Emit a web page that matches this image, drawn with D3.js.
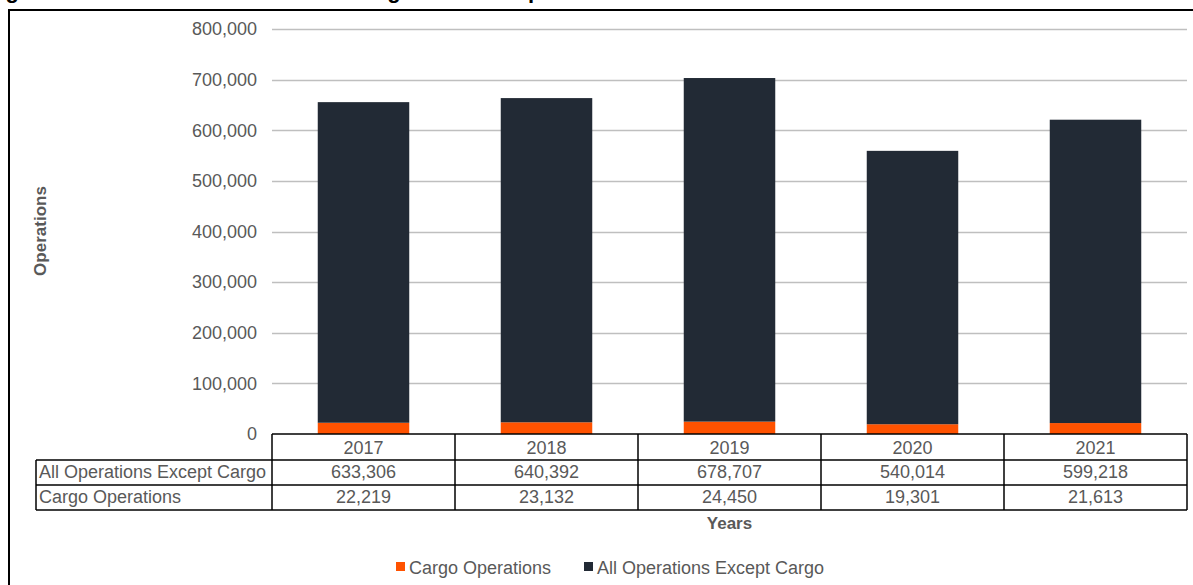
<!DOCTYPE html>
<html>
<head>
<meta charset="utf-8">
<script src="https://cdn.jsdelivr.net/npm/d3@7"></script>
<style>
  html, body { margin: 0; padding: 0; background: #fff; }
  svg { display: block; font-family: "Liberation Sans", Arial, sans-serif; }
</style>
</head>
<body>
<svg id="chart" width="1193" height="585"></svg>
<script>
const years = ["2017", "2018", "2019", "2020", "2021"];
const allExceptCargo = [633306, 640392, 678707, 540014, 599218];
const cargoOps = [22219, 23132, 24450, 19301, 21613];
const yTicks = [0, 100000, 200000, 300000, 400000, 500000, 600000, 700000, 800000];
const seriesNames = ["Cargo Operations", "All Operations Except Cargo"];
const titleParts = ["Figure 4: Total Annual Aircraft and Cargo", "Operations"];

const colors = { cargo: "#ff5200", other: "#222a35" };
const textColor = "#595959";
const fmt = d3.format(",");
const FS = 18;

const svg = d3.select("#chart");
const W = 1193, H = 585;

const plot = { left: 272, right: 1187, top: 29, bottom: 434 };

const x = d3.scaleBand().domain(years).range([plot.left, plot.right]).paddingInner(0.5).paddingOuter(0.25);
const xCell = d3.scaleBand().domain(years).range([plot.left, plot.right]).padding(0);
const y = d3.scaleLinear().domain([0, 800000]).range([plot.bottom, plot.top]);

// Title (cut off at top, as in the reference)
const title = svg.append("text")
  .attr("y", -2)
  .attr("font-size", 22).attr("font-weight", "bold").attr("fill", "#000");
title.append("tspan").attr("x", -14).text(titleParts[0]);
title.append("tspan").attr("x", 511).text(titleParts[1]);

// Outer border
svg.append("rect")
  .attr("x", 9).attr("y", 10).attr("width", W + 20).attr("height", H + 20)
  .attr("fill", "none").attr("stroke", "#000").attr("stroke-width", 2);

// Gridlines
svg.append("g").selectAll("line").data(yTicks.filter(d => d > 0)).join("line")
  .attr("x1", plot.left).attr("x2", plot.right)
  .attr("y1", d => Math.round(y(d)) + 0.5).attr("y2", d => Math.round(y(d)) + 0.5)
  .attr("stroke", "#bfbfbf").attr("stroke-width", 1.3);

// Y axis labels
const yAxis = d3.axisLeft(y).tickValues(yTicks).tickFormat(fmt).tickSize(0).tickPadding(0);
const gy = svg.append("g").attr("transform", `translate(257,0)`).call(yAxis);
gy.select(".domain").remove();
gy.selectAll("text").attr("font-size", FS).attr("fill", textColor)
  .attr("font-family", "'Liberation Sans', Arial, sans-serif");

// Stacked bars
const data = years.map((yr, i) => ({ year: yr, cargo: cargoOps[i], other: allExceptCargo[i] }));
const layers = d3.stack().keys(["cargo", "other"])(data);

svg.append("g").selectAll("g").data(layers).join("g")
  .attr("fill", d => colors[d.key])
  .selectAll("rect").data(d => d).join("rect")
  .attr("x", d => x(d.data.year))
  .attr("width", x.bandwidth())
  .attr("y", d => y(d[1]))
  .attr("height", d => y(d[0]) - y(d[1]));

// Data table
const rowTop = [434, 460, 485];
const rowBot = 510;
const tableLeft = 36;
const tbl = svg.append("g").attr("stroke", "#000").attr("stroke-width", 1.5).attr("fill", "none");
tbl.append("line").attr("x1", plot.left).attr("x2", plot.right).attr("y1", rowTop[0]).attr("y2", rowTop[0]);
[rowTop[1], rowTop[2], rowBot].forEach(yy => {
  tbl.append("line").attr("x1", tableLeft).attr("x2", plot.right).attr("y1", yy).attr("y2", yy);
});
tbl.append("line").attr("x1", tableLeft).attr("x2", tableLeft).attr("y1", rowTop[1]).attr("y2", rowBot);
const vx = years.map(yr => xCell(yr)).concat([plot.right]);
vx.forEach(xx => {
  tbl.append("line").attr("x1", xx).attr("x2", xx).attr("y1", rowTop[0]).attr("y2", rowBot);
});

const tText = svg.append("g").attr("font-size", FS).attr("fill", textColor);
tText.selectAll("text.yr").data(years).join("text").attr("class", "yr")
  .attr("x", d => xCell(d) + xCell.bandwidth() / 2).attr("y", (rowTop[0] + rowTop[1]) / 2 + 6.5)
  .attr("text-anchor", "middle").text(d => d);
const rows = [
  { name: seriesNames[1], vals: allExceptCargo, top: rowTop[1], bot: rowTop[2] },
  { name: seriesNames[0], vals: cargoOps, top: rowTop[2], bot: rowBot }
];
rows.forEach(r => {
  const cy = (r.top + r.bot) / 2 + 5.5;
  tText.append("text").attr("x", tableLeft + 3).attr("y", cy).text(r.name);
  years.forEach((yr, i) => {
    tText.append("text").attr("x", xCell(yr) + xCell.bandwidth() / 2).attr("y", cy)
      .attr("text-anchor", "middle").text(fmt(r.vals[i]));
  });
});

// Axis titles
svg.append("text").attr("x", (plot.left + plot.right) / 2).attr("y", 529)
  .attr("text-anchor", "middle").attr("font-size", 17).attr("font-weight", "bold")
  .attr("fill", textColor).text("Years");

svg.append("text").attr("transform", "translate(46,231) rotate(-90)")
  .attr("text-anchor", "middle").attr("font-size", 17).attr("font-weight", "bold")
  .attr("fill", textColor).text("Operations");

// Legend
const legendItems = [
  { name: seriesNames[0], color: colors.cargo, x: 396 },
  { name: seriesNames[1], color: colors.other, x: 584 }
];
const lg = svg.append("g");
legendItems.forEach(it => {
  lg.append("rect").attr("x", it.x).attr("y", 562).attr("width", 9).attr("height", 9).attr("fill", it.color);
  lg.append("text").attr("x", it.x + 13).attr("y", 573.5).attr("font-size", FS)
    .attr("fill", textColor).text(it.name);
});
</script>
</body>
</html>
